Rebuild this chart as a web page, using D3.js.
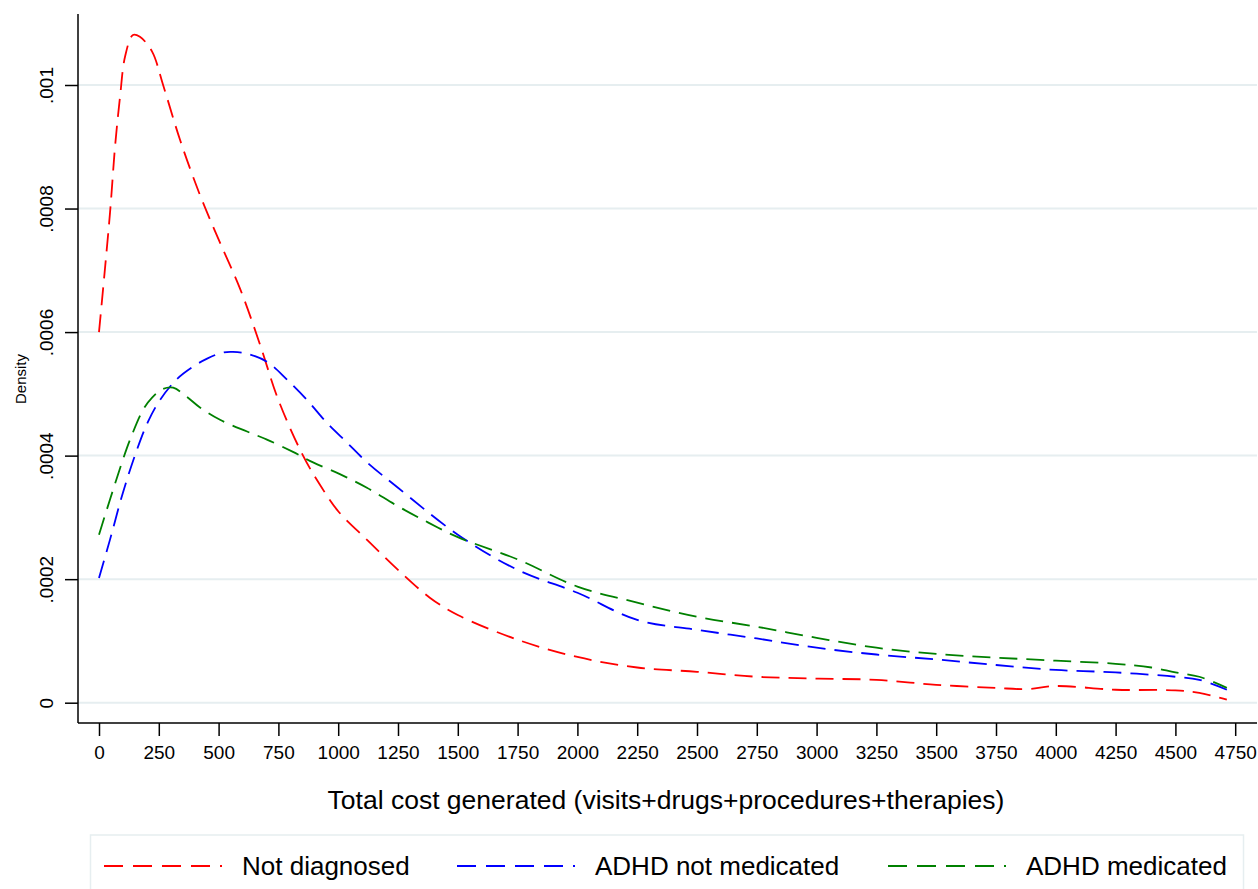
<!DOCTYPE html>
<html>
<head>
<meta charset="utf-8">
<script src="https://cdn.jsdelivr.net/npm/d3@7"></script>
<style>
  body { margin: 0; background: #fff; }
  svg { display: block; font-family: "Liberation Sans", Arial, Helvetica, sans-serif; }
</style>
</head>
<body>
<script>
// x positions (total cost) and density values
const notDiagnosed = [
    [0, 0.000600], [46, 0.000793], [67, 0.000900], [88, 0.000981], [109, 0.001046],
    [142, 0.001081], [171, 0.001078], [222, 0.001054], [268, 0.001000], [339, 0.000911],
    [422, 0.000822], [500, 0.000750], [590, 0.000670], [673, 0.000580], [750, 0.000490],
    [853, 0.000400], [925, 0.000352], [1000, 0.000310], [1125, 0.000262], [1250, 0.000215],
    [1383, 0.000170], [1500, 0.000142], [1750, 0.000102], [2000, 0.000074], [2250, 0.000057],
    [2500, 0.000050], [2750, 0.000042], [3000, 0.000039], [3250, 0.000037], [3500, 0.000029],
    [3750, 0.000024], [3880, 0.000022], [4000, 0.000027], [4250, 0.000021], [4500, 0.000020],
    [4600, 0.000016], [4715, 0.000005]
];
const notMedicated = [
    [0, 0.000202], [46, 0.000264], [100, 0.000340], [159, 0.000410], [205, 0.000455],
    [255, 0.000490], [326, 0.000524], [393, 0.000544], [452, 0.000557], [518, 0.000567],
    [560, 0.000568], [619, 0.000565], [702, 0.000552], [786, 0.000523], [870, 0.000490],
    [953, 0.000453], [1037, 0.000421], [1121, 0.000389], [1250, 0.000348], [1500, 0.000272],
    [1750, 0.000215], [2000, 0.000178], [2250, 0.000134], [2500, 0.000118], [2750, 0.000104],
    [3000, 0.000089], [3250, 0.000078], [3500, 0.000070], [3750, 0.000061], [4000, 0.000053],
    [4250, 0.000049], [4500, 0.000042], [4600, 0.000037], [4715, 0.000021]
];
const medicated = [
    [0, 0.000272], [46, 0.000329], [96, 0.000389], [130, 0.000426], [184, 0.000474],
    [222, 0.000494], [268, 0.000508], [310, 0.000510], [368, 0.000495], [422, 0.000478],
    [506, 0.000458], [619, 0.000439], [702, 0.000426], [811, 0.000406], [895, 0.000389],
    [1007, 0.000370], [1120, 0.000348], [1250, 0.000318], [1375, 0.000292], [1500, 0.000268],
    [1750, 0.000232], [2000, 0.000188], [2250, 0.000162], [2500, 0.000139], [2750, 0.000123],
    [3000, 0.000105], [3250, 0.000089], [3500, 0.000079], [3750, 0.000073], [4000, 0.000068],
    [4250, 0.000063], [4400, 0.000057], [4500, 0.000049], [4600, 0.000042], [4715, 0.000024]
];

const seriesNames = ["Not diagnosed", "ADHD not medicated", "ADHD medicated"];
const seriesColors = ["#ff0000", "#0000ff", "#008000"];
const xTicks = d3.range(0, 4751, 250);
const yTicks = [0, 0.0002, 0.0004, 0.0006, 0.0008, 0.001];
const yTickLabels = ["0", ".0002", ".0004", ".0006", ".0008", ".001"];

const width = 1258;
const height = 889;
const plot = {left: 78, right: 1257, top: 14, bottom: 723};

const svg = d3.select("body")
    .append("svg")
    .attr("width", width)
    .attr("height", height);

const xScale = d3.scaleLinear()
    .domain([0, 4750])
    .range([99, 1235.2]);

const yScale = d3.scaleLinear()
    .domain([0, 0.001])
    .range([702.7, 85]);

// gridlines
svg.append("g")
    .selectAll("line")
    .data(yTicks)
    .enter().append("line")
    .attr("x1", plot.left)
    .attr("x2", plot.right)
    .attr("y1", d => yScale(d))
    .attr("y2", d => yScale(d))
    .attr("stroke", "#e6eef0")
    .attr("stroke-width", 2);

// Y axis
const yAxis = svg.append("g")
    .attr("transform", "translate(" + plot.left + ",0)")
    .call(d3.axisLeft(yScale)
        .tickValues(yTicks)
        .tickSize(13)
        .tickFormat((d, i) => yTickLabels[i]));
yAxis.select(".domain").remove();
yAxis.selectAll(".tick line").attr("stroke", "#000").attr("stroke-width", 1.5);
yAxis.selectAll(".tick text")
    .attr("x", null).attr("dy", null)
    .attr("transform", "translate(-25,0) rotate(-90)")
    .attr("text-anchor", "middle")
    .attr("font-size", 19)
    .attr("fill", "#000");
svg.append("line")
    .attr("x1", plot.left).attr("x2", plot.left)
    .attr("y1", plot.top).attr("y2", plot.bottom)
    .attr("stroke", "#000").attr("stroke-width", 1.5);

// X axis
const xAxis = svg.append("g")
    .attr("transform", "translate(0," + plot.bottom + ")")
    .call(d3.axisBottom(xScale)
        .tickValues(xTicks)
        .tickSize(13)
        .tickFormat(d3.format("d")));
xAxis.select(".domain").remove();
xAxis.selectAll(".tick line").attr("stroke", "#000").attr("stroke-width", 1.5);
xAxis.selectAll(".tick text")
    .attr("y", 36).attr("dy", null)
    .attr("font-size", 19)
    .attr("fill", "#000");
svg.append("line")
    .attr("x1", plot.left).attr("x2", plot.right)
    .attr("y1", plot.bottom).attr("y2", plot.bottom)
    .attr("stroke", "#000").attr("stroke-width", 1.5);

// axis titles
svg.append("text")
    .attr("transform", "translate(26,379) rotate(-90)")
    .attr("text-anchor", "middle")
    .attr("font-size", 15)
    .text("Density");

svg.append("text")
    .attr("x", 666)
    .attr("y", 809)
    .attr("text-anchor", "middle")
    .attr("font-size", 26.5)
    .text("Total cost generated (visits+drugs+procedures+therapies)");

// density lines
const lineFunc = d3.line()
    .x(d => xScale(d[0]))
    .y(d => yScale(d[1]))
    .curve(d3.curveCatmullRom);

[notDiagnosed, notMedicated, medicated].forEach((data, i) => {
    svg.append("path")
        .datum(data)
        .attr("fill", "none")
        .attr("stroke", seriesColors[i])
        .attr("stroke-width", 1.8)
        .attr("stroke-dasharray", "18,9")
        .attr("d", lineFunc);
});

// legend
svg.append("rect")
    .attr("x", 90.5).attr("y", 835)
    .attr("width", 1153).attr("height", 80)
    .attr("fill", "#fff")
    .attr("stroke", "#e6eef0")
    .attr("stroke-width", 1.5);

const legendX = [104, 457, 888];
const legend = svg.append("g")
    .selectAll("g")
    .data(seriesNames)
    .enter().append("g")
    .attr("transform", (d, i) => "translate(" + legendX[i] + ",866)");
legend.append("line")
    .attr("x1", 0).attr("x2", 118)
    .attr("stroke", (d, i) => seriesColors[i])
    .attr("stroke-width", 2)
    .attr("stroke-dasharray", "19,10");
legend.append("text")
    .attr("x", 138)
    .attr("y", 9)
    .attr("font-size", 26)
    .text(d => d);
</script>
</body>
</html>
